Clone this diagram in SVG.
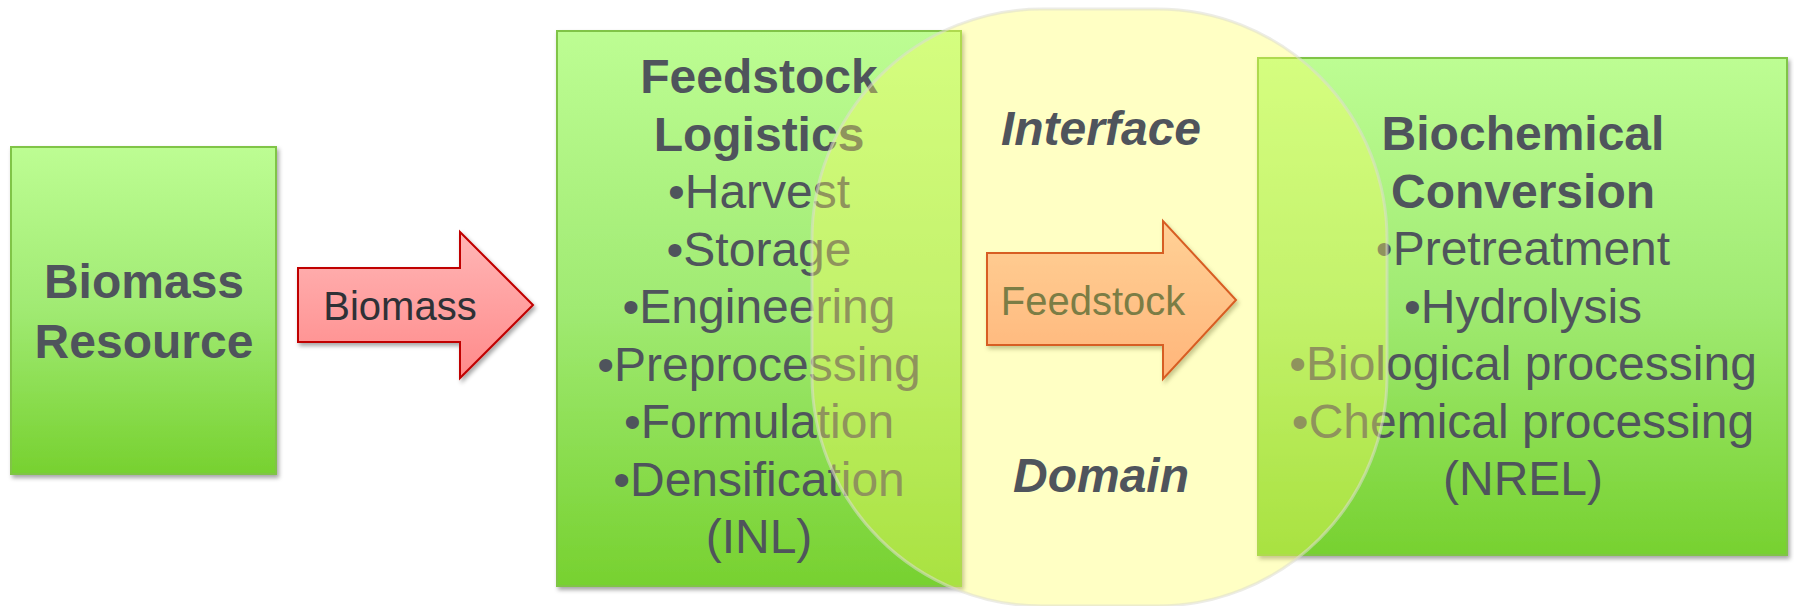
<svg xmlns="http://www.w3.org/2000/svg" width="1794" height="606" viewBox="0 0 1794 606">
  <defs>
    <linearGradient id="gGreen" x1="0" y1="0" x2="0" y2="1">
      <stop offset="0" stop-color="#bdfd93"/>
      <stop offset="0.5" stop-color="#a0ea72"/>
      <stop offset="1" stop-color="#77d130"/>
    </linearGradient>
    <linearGradient id="gRed" x1="0" y1="0" x2="0" y2="1">
      <stop offset="0" stop-color="#ffb6b6"/>
      <stop offset="1" stop-color="#ff8a8a"/>
    </linearGradient>
    <filter id="shadow" x="-10%" y="-10%" width="120%" height="120%">
      <feDropShadow dx="2" dy="3" stdDeviation="2" flood-color="#000" flood-opacity="0.35"/>
    </filter>
  </defs>
  <style>
    .box { fill: url(#gGreen); stroke: #80c447; stroke-width: 2; filter: url(#shadow); }
    .arrow { fill: url(#gRed); stroke: #c00000; stroke-width: 2; filter: url(#shadow); }
    .title { font-family: "Liberation Sans", Arial, sans-serif; font-weight: bold; font-size: 48px; fill: #4f545c; text-anchor: middle; }
    .item { font-family: "Liberation Sans", Arial, sans-serif; font-size: 48px; fill: #4f545c; text-anchor: middle; }
    .alabel { font-family: "Liberation Sans", Arial, sans-serif; font-size: 40px; fill: #2e3136; text-anchor: middle; }
    .ital { font-family: "Liberation Sans", Arial, sans-serif; font-weight: bold; font-style: italic; font-size: 48px; fill: #4f545c; text-anchor: middle; }
    .zone { fill: #ffff5e; fill-opacity: 0.37; stroke: #dcdcd2; stroke-opacity: 0.55; stroke-width: 3; }
  </style>
  <rect width="1794" height="606" fill="#ffffff"/>

  <g id="node-biomass-resource">
    <rect class="box" x="11" y="147" width="265" height="327"/>
    <text class="title" x="144" y="298" font-size="47">Biomass</text>
    <text class="title" x="144" y="358" font-size="47">Resource</text>
  </g>

  <g id="node-feedstock-logistics">
    <rect class="box" x="557" y="31" width="404" height="555"/>
    <text class="title" x="759" y="93">Feedstock</text>
    <text class="title" x="759" y="150.5">Logistics</text>
    <text class="item" x="759" y="208">•Harvest</text>
    <text class="item" x="759" y="265.5">•Storage</text>
    <text class="item" x="759" y="323">•Engineering</text>
    <text class="item" x="759" y="380.5">•Preprocessing</text>
    <text class="item" x="759" y="438">•Formulation</text>
    <text class="item" x="759" y="495.5">•Densification</text>
    <text class="item" x="759" y="553">(INL)</text>
  </g>

  <g id="node-biochemical-conversion">
    <rect class="box" x="1258" y="58" width="529" height="497"/>
    <text class="title" x="1523" y="150">Biochemical</text>
    <text class="title" x="1523" y="207.5">Conversion</text>
    <text class="item" x="1523" y="265">•Pretreatment</text>
    <text class="item" x="1523" y="322.5">•Hydrolysis</text>
    <text class="item" x="1523" y="380">•Biological processing</text>
    <text class="item" x="1523" y="437.5">•Chemical processing</text>
    <text class="item" x="1523" y="495">(NREL)</text>
  </g>

  <g id="connectors">
    <g id="edge-biomass">
      <path class="arrow" d="M298,268 H460 V232 L533,305 L460,378 V342 H298 Z"/>
      <text class="alabel" x="400" y="320">Biomass</text>
    </g>
    <g id="edge-feedstock">
      <path class="arrow" d="M987,253 H1163 V221 L1236,300 L1163,379 V345 H987 Z"/>
      <text class="alabel" x="1093" y="315">Feedstock</text>
    </g>
  </g>

  <g id="node-interface-domain">
    <rect class="zone" x="812" y="9" width="575" height="597" rx="230" ry="230"/>
    <text class="ital" x="1101" y="145">Interface</text>
    <text class="ital" x="1101" y="492">Domain</text>
  </g>
</svg>
